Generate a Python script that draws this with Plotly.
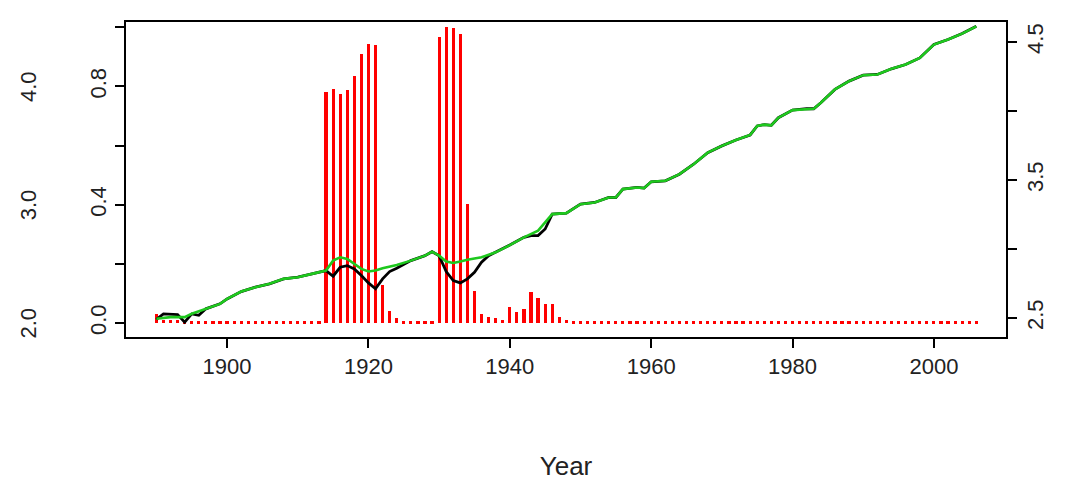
import plotly.graph_objects as go

# red bars, one per year 1890-2006
bar_years = list(range(1890, 2007))
bar_vals = [0.03, 0.01, 0.01, 0.01] + [0.006] * 20 + [
    0.782, 0.79, 0.774, 0.788, 0.835, 0.909, 0.942, 0.939,  # 1914-1921
    0.13, 0.04, 0.017, 0.006, 0.006, 0.006, 0.006, 0.006,  # 1922-1929
    0.967, 1.0, 0.998, 0.978, 0.403, 0.11, 0.031, 0.02, 0.017, 0.011,  # 1930-1939
    0.056, 0.037, 0.048, 0.106, 0.086, 0.065, 0.064, 0.02, 0.011,  # 1940-1948
] + [0.006] * 58

green_years = [1890, 1892, 1893, 1894, 1895, 1897, 1899, 1900, 1902, 1904, 1906, 1908, 1910, 1912,
               1914, 1915, 1916, 1917, 1918, 1919, 1920, 1921, 1922, 1924, 1926, 1928, 1929, 1930,
               1931, 1932, 1933, 1934, 1936, 1938, 1940, 1942, 1944, 1945, 1946, 1948, 1950, 1952,
               1954, 1955, 1956, 1958, 1959, 1960, 1962, 1964, 1966, 1968, 1970, 1972, 1974, 1975,
               1976, 1977, 1978, 1980, 1982, 1983, 1984, 1986, 1988, 1990, 1992, 1994, 1996, 1998,
               2000, 2002, 2004, 2006]
green_vals = [2.495, 2.507, 2.507, 2.507, 2.531, 2.567, 2.603, 2.639, 2.692, 2.724, 2.748, 2.784, 2.796, 2.820,
              2.844, 2.916, 2.940, 2.928, 2.892, 2.856, 2.837, 2.844, 2.861, 2.885, 2.916, 2.952, 2.981, 2.952,
              2.909, 2.899, 2.909, 2.923, 2.940, 2.976, 3.029, 3.085, 3.133, 3.193, 3.253, 3.260, 3.325, 3.337,
              3.373, 3.373, 3.434, 3.446, 3.441, 3.487, 3.494, 3.542, 3.614, 3.698, 3.747, 3.790, 3.826, 3.891,
              3.901, 3.896, 3.951, 4.006, 4.016, 4.016, 4.059, 4.156, 4.216, 4.259, 4.264, 4.305, 4.336, 4.384,
              4.481, 4.517, 4.560, 4.613]

black_years = [1890, 1891, 1893, 1894, 1895, 1896, 1897, 1899, 1900, 1902, 1904, 1906, 1908, 1910, 1912,
               1914, 1915, 1916, 1917, 1918, 1919, 1920, 1921, 1922, 1923, 1924, 1926, 1928, 1929, 1930,
               1931, 1932, 1933, 1934, 1935, 1936, 1937, 1938, 1940, 1942, 1943, 1944, 1945, 1946] + green_years[39:]
black_vals = [2.49, 2.53, 2.525, 2.47, 2.53, 2.52, 2.567, 2.603, 2.639, 2.692, 2.724, 2.748, 2.784, 2.796, 2.820,
              2.844, 2.803, 2.868, 2.880, 2.856, 2.808, 2.755, 2.712, 2.784, 2.837, 2.861, 2.916, 2.952, 2.981, 2.952,
              2.837, 2.772, 2.755, 2.784, 2.832, 2.904, 2.952, 2.976, 3.029, 3.085, 3.097, 3.097, 3.145, 3.253] + green_vals[39:]

left_outer_labels = ["2.0", "3.0", "4.0"]
left_outer_vals = [2, 3, 4]

FONT = "Liberation Sans, Arial, sans-serif"

fig = go.Figure()
fig.add_trace(go.Bar(x=bar_years, y=bar_vals, width=0.45, marker_color="#ff0000",
                     marker_line_width=0, yaxis="y"))
fig.add_trace(go.Scatter(x=black_years, y=black_vals, mode="lines",
                         line=dict(color="black", width=2.8), yaxis="y2"))
fig.add_trace(go.Scatter(x=green_years, y=green_vals, mode="lines",
                         line=dict(color="#1ec81e", width=2.6), yaxis="y2"))

axis_common = dict(showgrid=False, zeroline=False, ticks="outside", ticklen=9,
                   tickwidth=1.5, tickcolor="black", tickfont=dict(size=22, color="#222"))

for v, t in zip(left_outer_vals, left_outer_labels):
    fig.add_annotation(x=0, xref="paper", xshift=-112, y=v, yref="y3", text=t,
                       textangle=-90, showarrow=False, font=dict(size=22, color="#222", family=FONT))

fig.update_layout(
    width=1078, height=480,
    margin=dict(l=118, r=80, t=12, b=150),
    plot_bgcolor="white", paper_bgcolor="white",
    showlegend=False, bargap=0,
    font=dict(family=FONT),
    xaxis=dict(range=[1885.7, 2010.2], tickvals=[1900, 1920, 1940, 1960, 1980, 2000],
               showline=True, linecolor="black", linewidth=2, mirror=True,
               title=dict(text="Year", font=dict(size=26, color="#222"), standoff=78),
               **axis_common),
    yaxis=dict(range=[-0.047, 1.018], tickvals=[0, 0.2, 0.4, 0.6, 0.8, 1.0],
               ticktext=["0.0", "", "0.4", "", "0.8", ""], tickangle=-90,
               showline=True, linecolor="black", linewidth=2, **axis_common),
    yaxis2=dict(range=[2.363, 4.644], overlaying="y", side="right",
                tickvals=[2.5, 3.0, 3.5, 4.0, 4.5], ticktext=["2.5", "", "3.5", "", "4.5"],
                tickangle=-90, showline=True, linecolor="black", linewidth=2, **axis_common),
    yaxis3=dict(range=[1.882, 4.546], overlaying="y", visible=False),
)

fig.write_html("out.html")
